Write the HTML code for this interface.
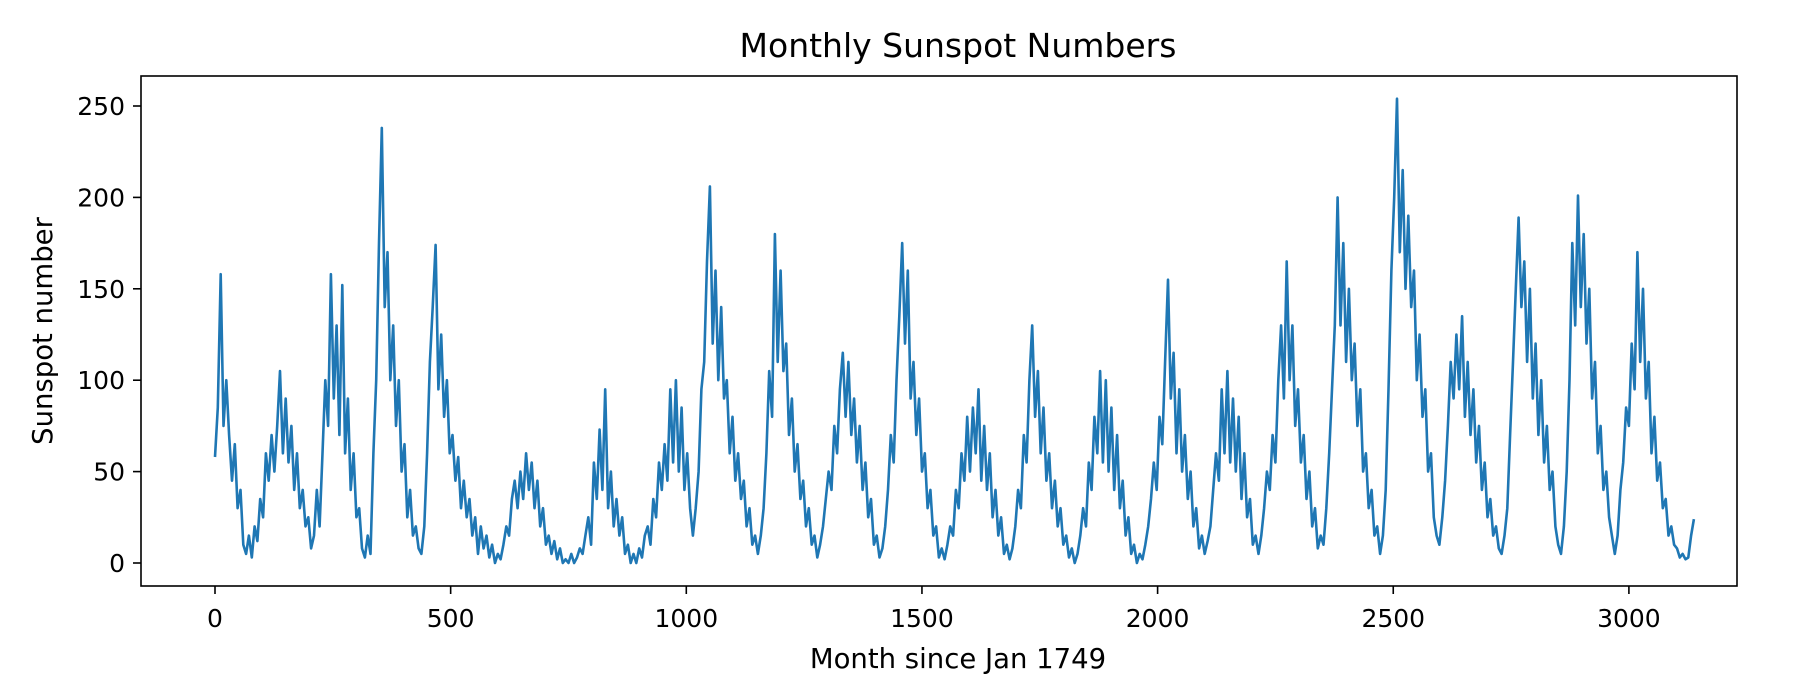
<!DOCTYPE html>
<html><head><meta charset="utf-8"><style>
html,body{margin:0;padding:0;background:#fff;}
svg{display:block;font-family:"DejaVu Sans","Liberation Sans",sans-serif;}
</style></head><body>
<svg id="chart" width="1800" height="700" viewBox="0 0 1800 700">
<rect width="1800" height="700" fill="#fff"/>
<text x="958" y="57" text-anchor="middle" font-size="33" fill="#000">Monthly Sunspot Numbers</text>
<text x="958" y="668" text-anchor="middle" font-size="27.5" fill="#000">Month since Jan 1749</text>
<text x="0" y="0" transform="translate(52,331) rotate(-90)" text-anchor="middle" font-size="27.5" fill="#000">Sunspot number</text>
<g id="ticks"></g>
<g id="plot"></g>
<rect x="141" y="76" width="1596" height="510" fill="none" stroke="#000" stroke-width="1.6"/>
</svg>
<script>
const months = [];
const sunspots = [58,85,158,75,100,70,45,65,30,40,10,5,15,3,20,12,35,25,60,45,70,50,75,105,60,90,55,75,40,60,30,40,20,25,8,15,40,20,60,100,75,158,90,130,70,152,60,90,40,60,25,30,8,3,15,5,60,100,175,238,140,170,100,130,75,100,50,65,25,40,15,20,8,5,20,60,110,140,174,95,125,80,100,60,70,45,58,30,45,25,35,15,25,5,20,8,15,3,10,0,5,2,10,20,15,35,45,30,50,35,60,40,55,30,45,20,30,10,15,5,12,2,8,0,2,0,5,0,3,8,5,15,25,10,55,35,73,40,95,30,50,20,35,15,25,5,10,0,5,0,8,3,15,20,10,35,25,55,40,65,45,95,55,100,50,85,40,60,30,15,30,50,95,110,165,206,120,160,100,140,90,100,60,80,45,60,35,45,20,30,10,15,5,15,30,60,105,80,180,110,160,105,120,70,90,50,65,35,45,20,30,10,15,3,10,20,35,50,40,75,60,95,115,80,110,70,90,55,75,40,55,25,35,10,15,3,8,20,40,70,55,100,135,175,120,160,90,110,70,90,50,60,30,40,15,20,3,8,2,10,20,15,40,30,60,45,80,50,85,60,95,45,75,40,60,25,40,15,25,5,10,2,8,20,40,30,70,55,100,130,80,105,60,85,45,60,30,45,20,30,10,15,3,8,0,5,15,30,20,55,40,80,60,105,55,100,50,85,40,70,30,45,15,25,5,10,0,5,2,10,20,35,55,40,80,65,110,155,90,115,60,95,50,70,35,50,20,30,8,15,5,12,20,40,60,45,95,60,105,55,90,50,80,35,60,25,35,10,15,5,15,30,50,40,70,55,100,130,90,165,100,130,75,95,55,70,35,50,20,30,8,15,10,30,60,95,130,200,130,175,110,150,100,120,75,95,50,60,30,40,15,20,5,15,40,95,160,200,254,170,215,150,190,140,160,100,125,80,95,50,60,25,15,10,25,45,75,110,90,125,95,135,80,110,70,95,55,75,40,55,25,35,15,20,8,5,15,30,70,110,150,189,140,165,110,150,90,120,70,100,55,75,40,50,20,10,5,20,50,100,175,130,201,140,180,120,150,90,110,60,75,40,50,25,15,5,15,40,55,85,75,120,95,170,110,150,90,110,60,80,45,55,30,35,15,20,10,8,3,5,2,3,15,24];
for (let i = 0; i < sunspots.length; i++) months.push(i * 6);
const xTicks = [0,500,1000,1500,2000,2500,3000];
const yTicks = [0,50,100,150,200,250];

const X0 = 215, XS = 0.4713, Y0 = 563, YS = 1.828;
function xScale(m){ return X0 + m * XS; }
function yScale(v){ return Y0 - v * YS; }
const NS = "http://www.w3.org/2000/svg";
const tg = document.getElementById('ticks');
const pg = document.getElementById('plot');

xTicks.forEach(t => {
  const x = xScale(t);
  const l = document.createElementNS(NS, 'line');
  l.setAttribute('x1', x); l.setAttribute('x2', x);
  l.setAttribute('y1', 586); l.setAttribute('y2', 594);
  l.setAttribute('stroke', '#000'); l.setAttribute('stroke-width', '1.6');
  
  
  tg.appendChild(l);
  const tx = document.createElementNS(NS, 'text');
  tx.setAttribute('x', x); tx.setAttribute('y', 627);
  tx.setAttribute('text-anchor', 'middle'); tx.setAttribute('font-size', '25');
  tx.textContent = t;
  
  
  tg.appendChild(tx);
});
yTicks.forEach(t => {
  const y = yScale(t);
  const l = document.createElementNS(NS, 'line');
  l.setAttribute('x1', 133); l.setAttribute('x2', 141);
  l.setAttribute('y1', y); l.setAttribute('y2', y);
  l.setAttribute('stroke', '#000'); l.setAttribute('stroke-width', '1.6');
  
  
  tg.appendChild(l);
  const tx = document.createElementNS(NS, 'text');
  tx.setAttribute('x', 125); tx.setAttribute('y', y + 9);
  tx.setAttribute('text-anchor', 'end'); tx.setAttribute('font-size', '25');
  tx.textContent = t;
  
  
  tg.appendChild(tx);
});

const pts = sunspots.map((v, i) => xScale(months[i]).toFixed(1) + ',' + yScale(v).toFixed(1)).join(' ');
const pl = document.createElementNS(NS, 'polyline');
pl.setAttribute('points', pts);
pl.setAttribute('fill', 'none');
pl.setAttribute('stroke', '#1f77b4');
pl.setAttribute('stroke-width', '2.6');
pl.setAttribute('stroke-linejoin', 'round');


pg.appendChild(pl);
</script>
</body></html>
